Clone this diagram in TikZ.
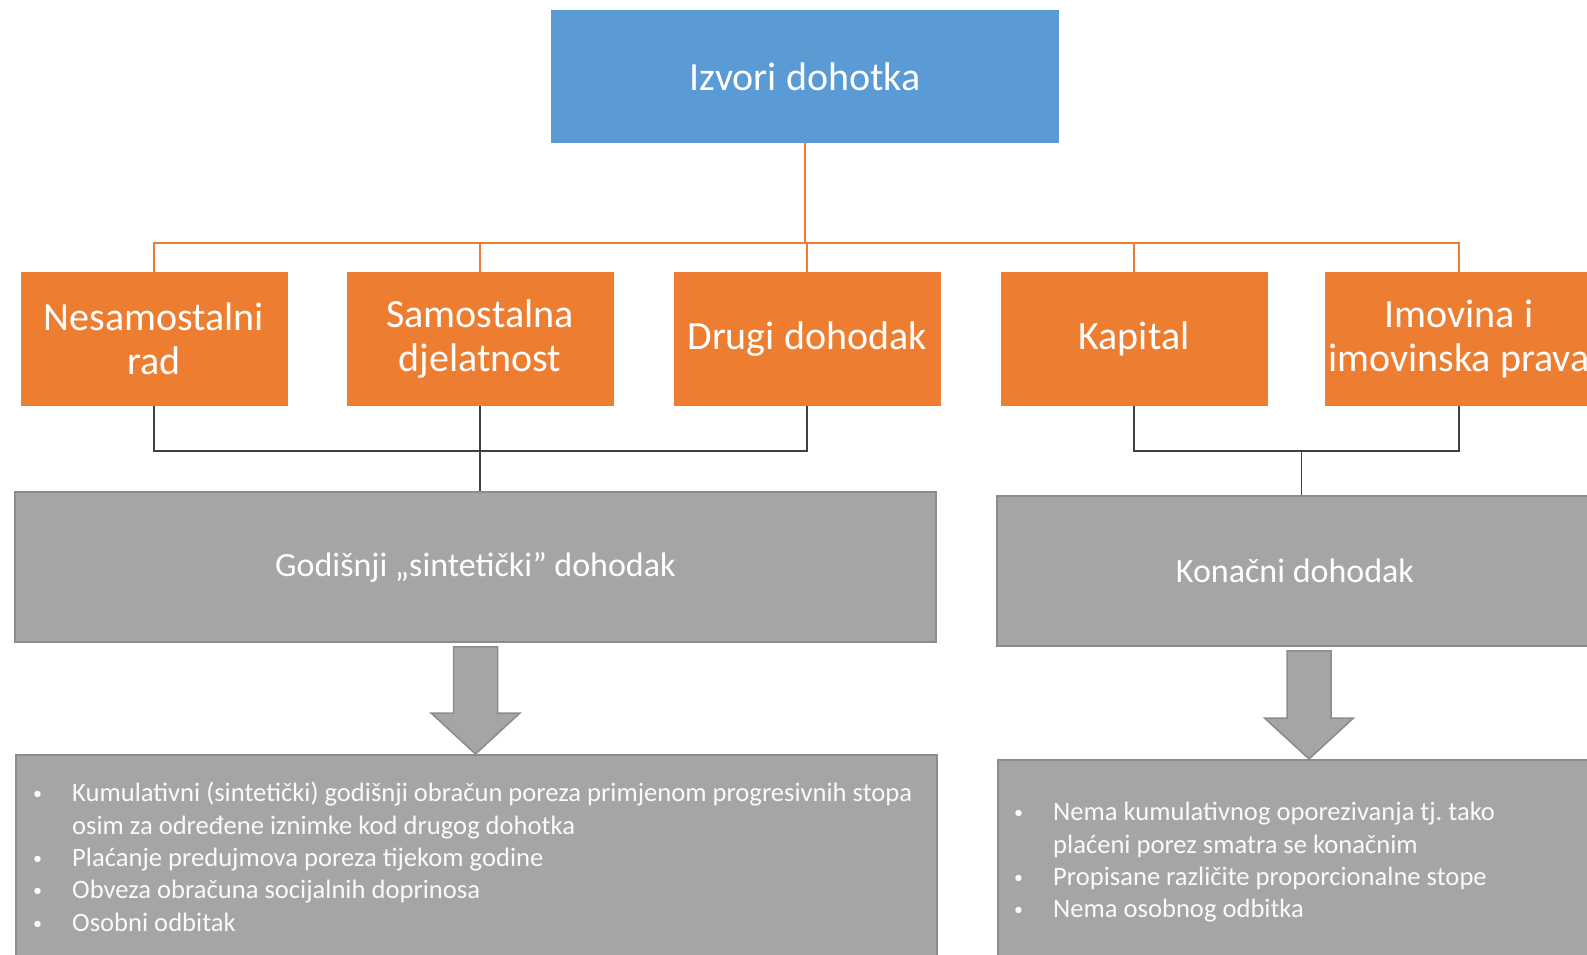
\documentclass[tikz,border=0pt]{standalone}
\usepackage{fontspec}
\setmainfont{Carlito}
\usetikzlibrary{calc}
\definecolor{izvblue}{HTML}{5B9BD5}
\definecolor{izvorange}{HTML}{ED7D31}
\definecolor{izvgray}{HTML}{A5A5A5}
\definecolor{izvedge}{HTML}{8C8C8C}
\definecolor{izvline}{HTML}{404040}
\newcommand{\popisfont}{\fontsize{26.6}{32.4}\selectfont\frenchspacing}
\newcommand{\stavka}[1]{\par\spaceskip=6pt plus 2pt minus 1pt\relax\hangindent=39pt\hangafter=1\noindent\makebox[39pt][l]{\raisebox{2pt}{\fontsize{18}{18}\selectfont\textbullet}}#1}
\tikzset{
  glavni/.style={fill=izvblue,text=white,minimum width=508pt,minimum height=133pt,font=\fontsize{40}{44}\selectfont},
  izvor/.style={fill=izvorange,text=white,minimum width=267pt,minimum height=134pt,align=center,font=\fontsize{40}{44}\selectfont},
  vrsta/.style={fill=izvgray,draw=izvedge,line width=1.5pt,text=white,font=\fontsize{34}{40}\selectfont},
  popis/.style={fill=izvgray,draw=izvedge,line width=1.5pt,anchor=north west},
  tekst/.style={anchor=north west,inner sep=0pt,text=white!95!izvgray,text width=#1,align=left,font=\popisfont},
  narline/.style={izvorange,line width=2pt},
  crnline/.style={izvline,line width=1.5pt},
  strelica/.style={fill=izvgray,draw=izvedge,line width=1.5pt,line join=miter}
}
\begin{document}
\begin{tikzpicture}[x=1pt,y=-1pt]
\useasboundingbox (0,0) rectangle (1587,955);
\clip (0,0) rectangle (1587,955);

\node[glavni] (top) at (805,76.5) {Izvori dohotka};

\node[izvor] (s1) at (154,339) {Nesamostalni\\rad};
\node[izvor] (s2) at (480,339) {Samostalna\\djelatnost};
\node[izvor] (s3) at (807,339) {Drugi dohodak};
\node[izvor] (s4) at (1134,339) {Kapital};
\node[izvor] (s5) at (1459,339) {Imovina i\\imovinska prava};

\coordinate (bus) at (top.south |- 0,243);
\draw[narline] (top.south) -- (bus);
\foreach \b in {s1,s2,s3,s4,s5}
  \draw[narline] (bus) -| (\b.north);

\node[vrsta,minimum width=921pt,minimum height=150pt] (sumL) at (475.5,567) {Godišnji „sintetički” dohodak};
\node[vrsta,minimum width=596pt,minimum height=150pt] (sumR) at (1295,571) {Konačni dohodak};

\draw[crnline] (s1.south) -- ++(0,45) -| (s3.south);
\draw[crnline] (s2.south) -- (s2.south |- sumL.north);
\draw[crnline] (s4.south) -- ++(0,45) -| (s5.south);
\draw[crnline] ($(s4.south)!0.5!(s5.south)+(5,45)$) coordinate (jR) -- (jR |- sumR.north);

\node[popis,minimum width=921pt,minimum height=230pt] (listL) at (15,754) {};
\node[popis,minimum width=596pt,minimum height=230pt] (listR) at (997,759) {};

\coordinate (tipL) at (listL.north -| sumL.south);
\coordinate (tipR) at ($(listR.north -| sumR.south)+(14,0)$);
\draw[strelica] ($(tipL |- sumL.south)+(-22,4)$) -- ($(tipL |- sumL.south)+(22,4)$) -- ($(tipL)+(22,-41)$)
  -- ($(tipL)+(44.5,-41)$) -- (tipL) -- ($(tipL)+(-44.5,-41)$) -- ($(tipL)+(-22,-41)$) -- cycle;
\draw[strelica] ($(tipR |- sumR.south)+(-22,4)$) -- ($(tipR |- sumR.south)+(22,4)$) -- ($(tipR)+(22,-41)$)
  -- ($(tipR)+(44.5,-41)$) -- (tipR) -- ($(tipR)+(-44.5,-41)$) -- ($(tipR)+(-22,-41)$) -- cycle;

\node[tekst=900pt] (txtL) at (33,769) {%
\stavka{Kumulativni (sintetički) godišnji obračun poreza primjenom progresivnih stopa\newline osim za određene iznimke kod drugog dohotka}
\stavka{Plaćanje predujmova poreza tijekom godine}
\stavka{Obveza obračuna socijalnih doprinosa}
\stavka{Osobni odbitak}};
\node[tekst=570pt] (txtR) at (1014,788) {%
\stavka{Nema kumulativnog oporezivanja tj. tako\newline plaćeni porez smatra se konačnim}
\stavka{Propisane različite proporcionalne stope}
\stavka{Nema osobnog odbitka}};
\end{tikzpicture}
\end{document}
